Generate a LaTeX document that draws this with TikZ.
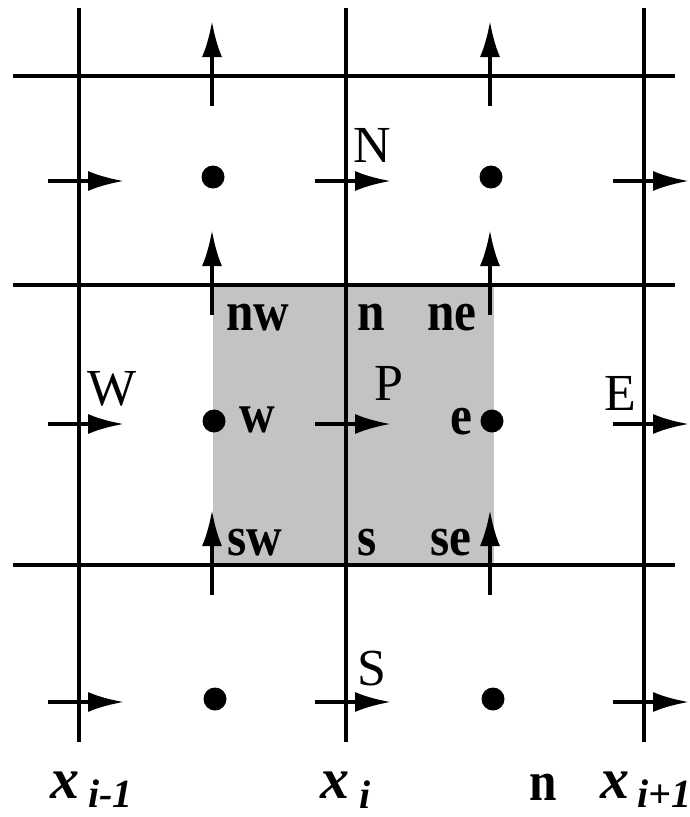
\documentclass[tikz,border=0pt]{standalone}
\usepackage{fontspec}
\setmainfont{Liberation Serif}
\usetikzlibrary{arrows.meta}
\definecolor{cellgray}{RGB}{195,195,195}
\newcommand{\facetext}[1]{\scalebox{0.88}[1]{#1}}
\begin{document}
\begin{tikzpicture}[x=1pt,y=-1pt,
  gridh/.style={line width=4.4pt},
  gridv/.style={line width=3.6pt},
  flux/.style={line width=4pt,-{Latex[length=36pt,width=20pt]}},
  cellpt/.style={circle,fill=black,inner sep=0pt,minimum size=23pt},
  caplbl/.style={font=\fontsize{52}{56}\selectfont,inner sep=0pt,anchor=base},
  facelbl/.style={font=\fontsize{56}{60}\selectfont\bfseries,inner sep=0pt,anchor=base},
  xlbl/.style={font=\fontsize{58}{62}\selectfont\bfseries\itshape,inner sep=0pt,anchor=base west},
  sublbl/.style={font=\fontsize{40}{44}\selectfont\bfseries\itshape,inner sep=0pt,anchor=base west}
]
\useasboundingbox (0,0) rectangle (690,817);

% shaded control volume
\coordinate (cvA) at (213,285);
\coordinate (cvB) at (494,565);
\fill[cellgray] (cvA) rectangle (cvB);

% grid lines
\foreach \n/\yy in {a/76, b/285, c/565} {
  \coordinate (h\n l) at (13,\yy);
  \coordinate (h\n r) at (675,\yy);
  \draw[gridh] (h\n l) -- (h\n r);
}
\foreach \n/\xx in {a/79, b/346, c/644} {
  \coordinate (v\n t) at (\xx,8);
  \coordinate (v\n b) at (\xx,742);
  \draw[gridv] (v\n t) -- (v\n b);
}

% vertical flux arrows
\foreach \xx in {212,490} {
  \foreach \yy in {76,285,565} {
    \coordinate (vt\xx-\yy) at (\xx,\yy+30);
    \coordinate (vh\xx-\yy) at (\xx,\yy-55);
    \draw[flux] (vt\xx-\yy) -- (vh\xx-\yy);
  }
}
% horizontal flux arrows
\foreach \xx in {79,346,644} {
  \foreach \yy in {181,424,702} {
    \coordinate (ht\xx-\yy) at (\xx-31,\yy);
    \coordinate (hh\xx-\yy) at (\xx+45,\yy);
    \draw[flux] (ht\xx-\yy) -- (hh\xx-\yy);
  }
}

% cell centres
\node[cellpt] (p1) at (213,177) {};
\node[cellpt] (p2) at (491,177) {};
\node[cellpt] (p3) at (214,421) {};
\node[cellpt] (p4) at (492,421) {};
\node[cellpt] (p5) at (215,699) {};
\node[cellpt] (p6) at (493,699) {};

% capital labels
\node[caplbl] (lN) at (372,162) {N};
\node[caplbl] (lW) at (112,405) {W};
\node[caplbl] (lP) at (389,400) {P};
\node[caplbl] (lE) at (620,410) {E};
\node[caplbl] (lS) at (372,685) {S};

% face labels
\node[facelbl] (lnw) at (258,330) {\facetext{nw}};
\node[facelbl] (ln) at (371,330) {\facetext{n}};
\node[facelbl] (lne) at (452,330) {\facetext{ne}};
\node[facelbl] (lw) at (257,432) {\facetext{w}};
\node[facelbl] (le) at (461,434) {\facetext{e}};
\node[facelbl] (lsw) at (255,555) {\facetext{sw}};
\node[facelbl] (ls) at (367,555) {\facetext{s}};
\node[facelbl] (lse) at (451,555) {\facetext{se}};

% axis labels
\node[xlbl] (x1) at (50,798) {x};
\node[sublbl] (x1s) at (88,807) {i-1};
\node[xlbl] (x2) at (320,798) {x};
\node[sublbl] (x2s) at (359,808) {i};
\node[facelbl] (nb) at (543,800) {\facetext{n}};
\node[xlbl] (x3) at (600,798) {x};
\node[sublbl] (x3s) at (637,807) {i+1};
\end{tikzpicture}
\end{document}
